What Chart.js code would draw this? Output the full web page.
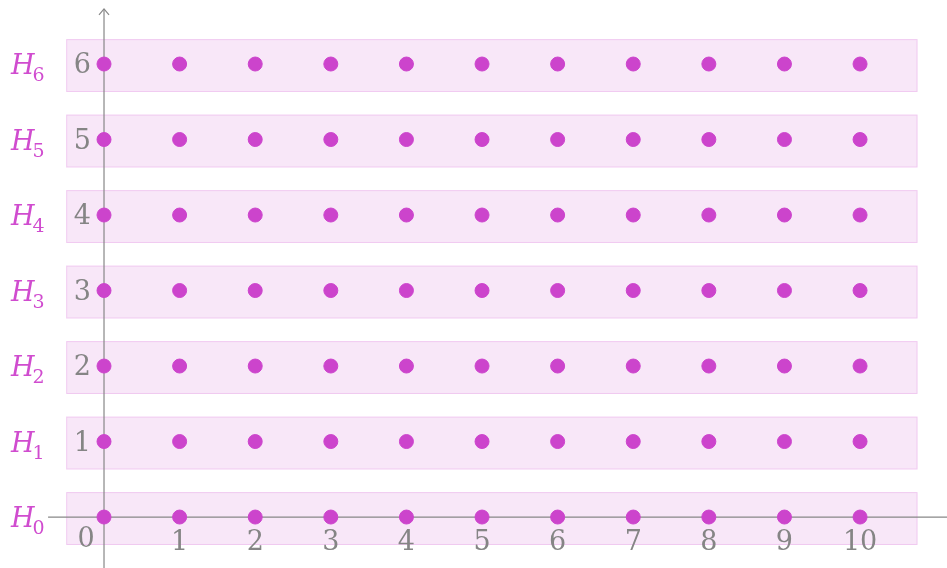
<!DOCTYPE html>
<html>
<head>
<meta charset="utf-8">
<script src="https://cdn.jsdelivr.net/npm/chart.js@4/dist/chart.umd.min.js"></script>
<style>
  html, body { margin: 0; padding: 0; background: #fff; }
  #wrap { width: 947px; height: 568px; }
</style>
</head>
<body>
<div id="wrap"><canvas id="c"></canvas></div>
<script>
// data
const xValues = [0, 1, 2, 3, 4, 5, 6, 7, 8, 9, 10];
const yValues = [0, 1, 2, 3, 4, 5, 6];
const xTickLabels = ['0', '1', '2', '3', '4', '5', '6', '7', '8', '9', '10'];
const yTickLabels = ['0', '1', '2', '3', '4', '5', '6'];
const rowLabels = ['0', '1', '2', '3', '4', '5', '6']; // H subscripts
const bandStart = -0.5;
const bandEnd = 10.76;
const bandAbove = 0.33;
const bandBelow = 0.37;

const points = [];
yValues.forEach(y => xValues.forEach(x => points.push({ x: x, y: y })));

const overlay = {
    id: 'overlay',
    beforeDatasetsDraw(chart) {
        const ctx = chart.ctx, xs = chart.scales.x, ys = chart.scales.y;
        ctx.save();
        // bands
        yValues.forEach(y => {
            const l = xs.getPixelForValue(bandStart), r = xs.getPixelForValue(bandEnd);
            const t = ys.getPixelForValue(y + bandAbove), b = ys.getPixelForValue(y - bandBelow);
            ctx.fillStyle = 'rgba(204, 68, 204, 0.13)';
            ctx.fillRect(l, t, r - l, b - t);
            ctx.strokeStyle = 'rgba(204, 68, 204, 0.18)';
            ctx.lineWidth = 1;
            ctx.strokeRect(l + 0.5, t + 0.5, r - l - 1, b - t - 1);
        });
        // axes
        const x0 = xs.getPixelForValue(0), y0 = ys.getPixelForValue(0);
        ctx.strokeStyle = '#888';
        ctx.lineWidth = 1.2;
        ctx.beginPath();
        ctx.moveTo(xs.getPixelForValue(-0.74), y0);
        ctx.lineTo(chart.width, y0);
        ctx.moveTo(x0, chart.height);
        ctx.lineTo(x0, ys.getPixelForValue(6.73));
        ctx.stroke();
        const tip = ys.getPixelForValue(6.73);
        ctx.beginPath();
        ctx.moveTo(x0 - 5, tip + 6);
        ctx.lineTo(x0, tip);
        ctx.lineTo(x0 + 5, tip + 6);
        ctx.stroke();
        // tick labels
        ctx.fillStyle = '#858585';
        ctx.font = '27px "DejaVu Serif"';
        ctx.textBaseline = 'middle';
        ctx.textAlign = 'center';
        xValues.forEach((x, i) => {
            if (x === 0) {
                ctx.fillText(xTickLabels[i], x0 - 18, y0 + 23);
            } else {
                ctx.fillText(xTickLabels[i], xs.getPixelForValue(x), y0 + 26);
            }
        });
        ctx.textAlign = 'right';
        yValues.forEach((y, i) => {
            if (y === 0) return;
            ctx.fillText(yTickLabels[i], x0 - 13, ys.getPixelForValue(y) + 2);
        });
        // row labels H_n
        ctx.fillStyle = '#d04ccf';
        yValues.forEach((y, i) => {
            const py = ys.getPixelForValue(y);
            ctx.textAlign = 'left';
            ctx.textBaseline = 'alphabetic';
            ctx.font = 'italic 27px "DejaVu Serif"';
            ctx.fillText('H', 11, py + 10);
            const w = ctx.measureText('H').width;
            ctx.font = '19px "DejaVu Serif"';
            ctx.fillText(rowLabels[i], 11 + w - 2, py + 17);
        });
        ctx.restore();
    }
};

new Chart(document.getElementById('c'), {
    type: 'scatter',
    data: {
        datasets: [{
            data: points,
            backgroundColor: '#cc44cc',
            borderColor: '#cc44cc',
            pointRadius: 7,
            pointHoverRadius: 7
        }]
    },
    options: {
        responsive: true,
        maintainAspectRatio: false,
        animation: false,
        layout: { padding: 0, autoPadding: false },
        plugins: { legend: { display: false }, tooltip: { enabled: false } },
        scales: {
            x: { type: 'linear', min: -1.3757, max: 11.15, display: false },
            y: { type: 'linear', min: -0.675, max: 6.848, display: false }
        }
    },
    plugins: [overlay]
});
</script>
</body>
</html>
